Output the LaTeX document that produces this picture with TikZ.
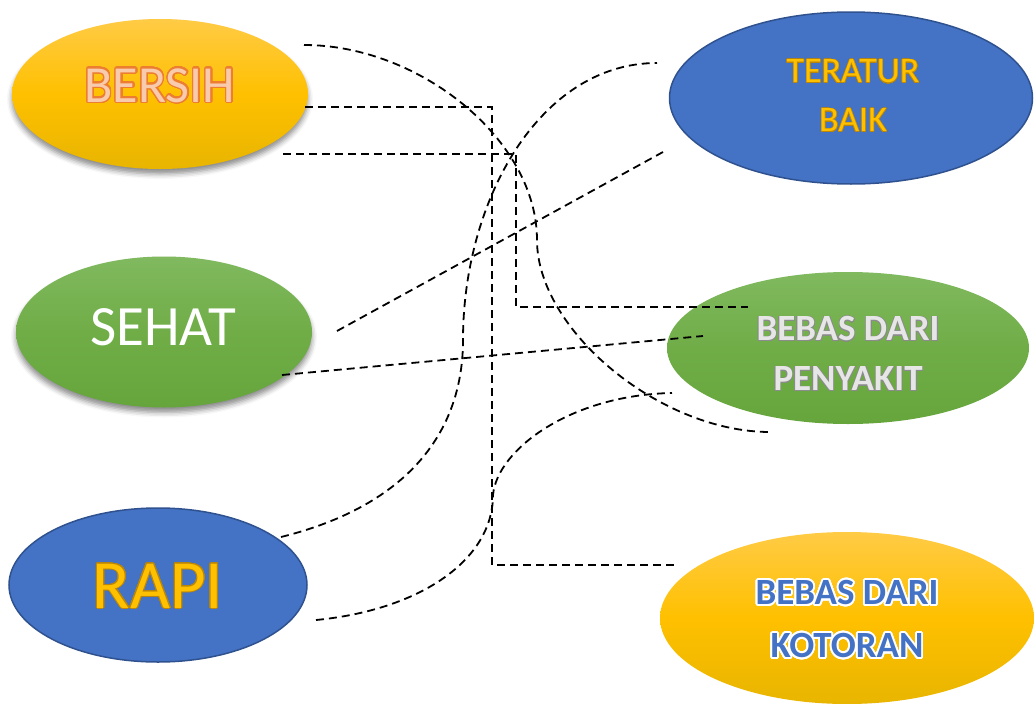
\documentclass[tikz,border=0pt]{standalone}
\usepackage{fontspec}
\setmainfont{Carlito}
\usepackage{contour}
\contournumber{32}
\usetikzlibrary{shapes.geometric,shadows.blur}
\definecolor{yTop}{HTML}{FFCB45}
\definecolor{yMid}{HTML}{FFC000}
\definecolor{yBot}{HTML}{E8B500}
\definecolor{gTop}{HTML}{80B95F}
\definecolor{gMid}{HTML}{70AD47}
\definecolor{gBot}{HTML}{66A53C}
\definecolor{bFill}{HTML}{4472C4}
\definecolor{bLine}{HTML}{2F528F}
\definecolor{peach}{HTML}{F8CBAD}
\definecolor{orangeLine}{HTML}{ED7D31}
\definecolor{gold}{HTML}{FFC000}
\definecolor{darkGold}{HTML}{B8860B}
\definecolor{lightGray}{HTML}{E7E6E6}
\definecolor{midGray}{HTML}{8C8C8C}
\begin{document}
\begin{tikzpicture}[x=1pt,y=-1pt,
  oval/.style={ellipse, inner sep=0pt},
  yel/.style={oval, top color=yTop, bottom color=yBot, middle color=yMid},
  grn/.style={oval, top color=gTop, bottom color=gBot, middle color=gMid},
  blu/.style={oval, fill=bFill, draw=bLine, line width=1.5pt},
  shad/.style={blur shadow={shadow xshift=0pt, shadow yshift=-5pt, shadow blur radius=5pt, shadow opacity=45}},
  conn/.style={draw=black, line width=1.8pt, dash pattern=on 8pt off 5pt},
  lbl/.style={inner sep=0pt, anchor=base}
]
\useasboundingbox (0,0) rectangle (1034,704);

% ellipses
\node[yel, shad, minimum width=296pt, minimum height=150pt] (bersih) at (160,94) {};
\node[grn, shad, minimum width=296pt, minimum height=151pt] (sehat) at (164,332) {};
\node[blu, minimum width=298pt, minimum height=154pt] (rapi) at (158,585) {};
\node[blu, minimum width=363pt, minimum height=172pt] (teratur) at (851,98) {};
\node[grn, minimum width=362pt, minimum height=152pt] (penyakit) at (848,348) {};
\node[yel, minimum width=374pt, minimum height=172pt] (kotoran) at (847,618) {};

% texts
\node[lbl, font=\fontsize{52}{60}\selectfont] (bersihT) at (160,102)
  {\contourlength{1.3pt}\contour{orangeLine}{\textcolor{peach}{BERSIH}}};
\node[lbl, font=\fontsize{57}{66}\selectfont, text=white] (sehatT) at (163,345) {SEHAT};
\node[lbl, font=\fontsize{69}{80}\selectfont] (rapiT) at (158,608)
  {\contourlength{1pt}\contour{darkGold}{\textcolor{gold}{RAPI}}};
\node[inner sep=0pt, align=center, font=\fontsize{36}{49}\selectfont] (teraturT) at (853,96)
  {\contourlength{0.5pt}\contour{darkGold}{\textcolor{gold}{TERATUR}}\\
   \contourlength{0.5pt}\contour{darkGold}{\textcolor{gold}{BAIK}}};
\node[inner sep=0pt, align=center, font=\bfseries\fontsize{37}{50}\selectfont] (penyakitT) at (848,354)
  {\contourlength{0.6pt}\contour{midGray}{\textcolor{lightGray}{BEBAS DARI}}\\
   \contourlength{0.6pt}\contour{midGray}{\textcolor{lightGray}{PENYAKIT}}};
\node[inner sep=0pt, align=center, font=\bfseries\fontsize{37}{53}\selectfont] (kotoranT) at (847,620)
  {\contourlength{1.8pt}\contour{white}{\textcolor{bFill}{BEBAS DARI}}\\
   \contourlength{1.8pt}\contour{white}{\textcolor{bFill}{KOTORAN}}};

% connector end points
\coordinate (a1) at (304,45);
\coordinate (a2) at (537,240);
\coordinate (a3) at (770,432);
\coordinate (b1) at (305,107);
\coordinate (b2) at (492,565);
\coordinate (b3) at (678,565);
\coordinate (c1) at (283,154);
\coordinate (c2) at (516,307);
\coordinate (c3) at (748,307);
\coordinate (d1) at (337,331);
\coordinate (d2) at (663,152);
\coordinate (e1) at (282,375);
\coordinate (e2) at (703,336);
\coordinate (f1) at (281,537);
\coordinate (f2) at (463,340);
\coordinate (f3) at (657,63);
\coordinate (g1) at (316,620);
\coordinate (g2) at (493,495);
\coordinate (g3) at (672,393);

% connectors
\draw[conn] (a1) .. controls (420,45) and (537,140) .. (a2)
            .. controls (537,330) and (660,432) .. (a3);
\draw[conn] (b1) -| (b2) -- (b3);
\draw[conn] (c1) -| (c2) -- (c3);
\draw[conn] (d1) -- (d2);
\draw[conn] (e1) -- (e2);
\draw[conn] (f1) .. controls (410,505) and (463,430) .. (f2)
            .. controls (463,200) and (540,63) .. (f3);
\draw[conn] (g1) .. controls (420,610) and (493,560) .. (g2)
            .. controls (497,450) and (570,395) .. (g3);
\end{tikzpicture}
\end{document}
